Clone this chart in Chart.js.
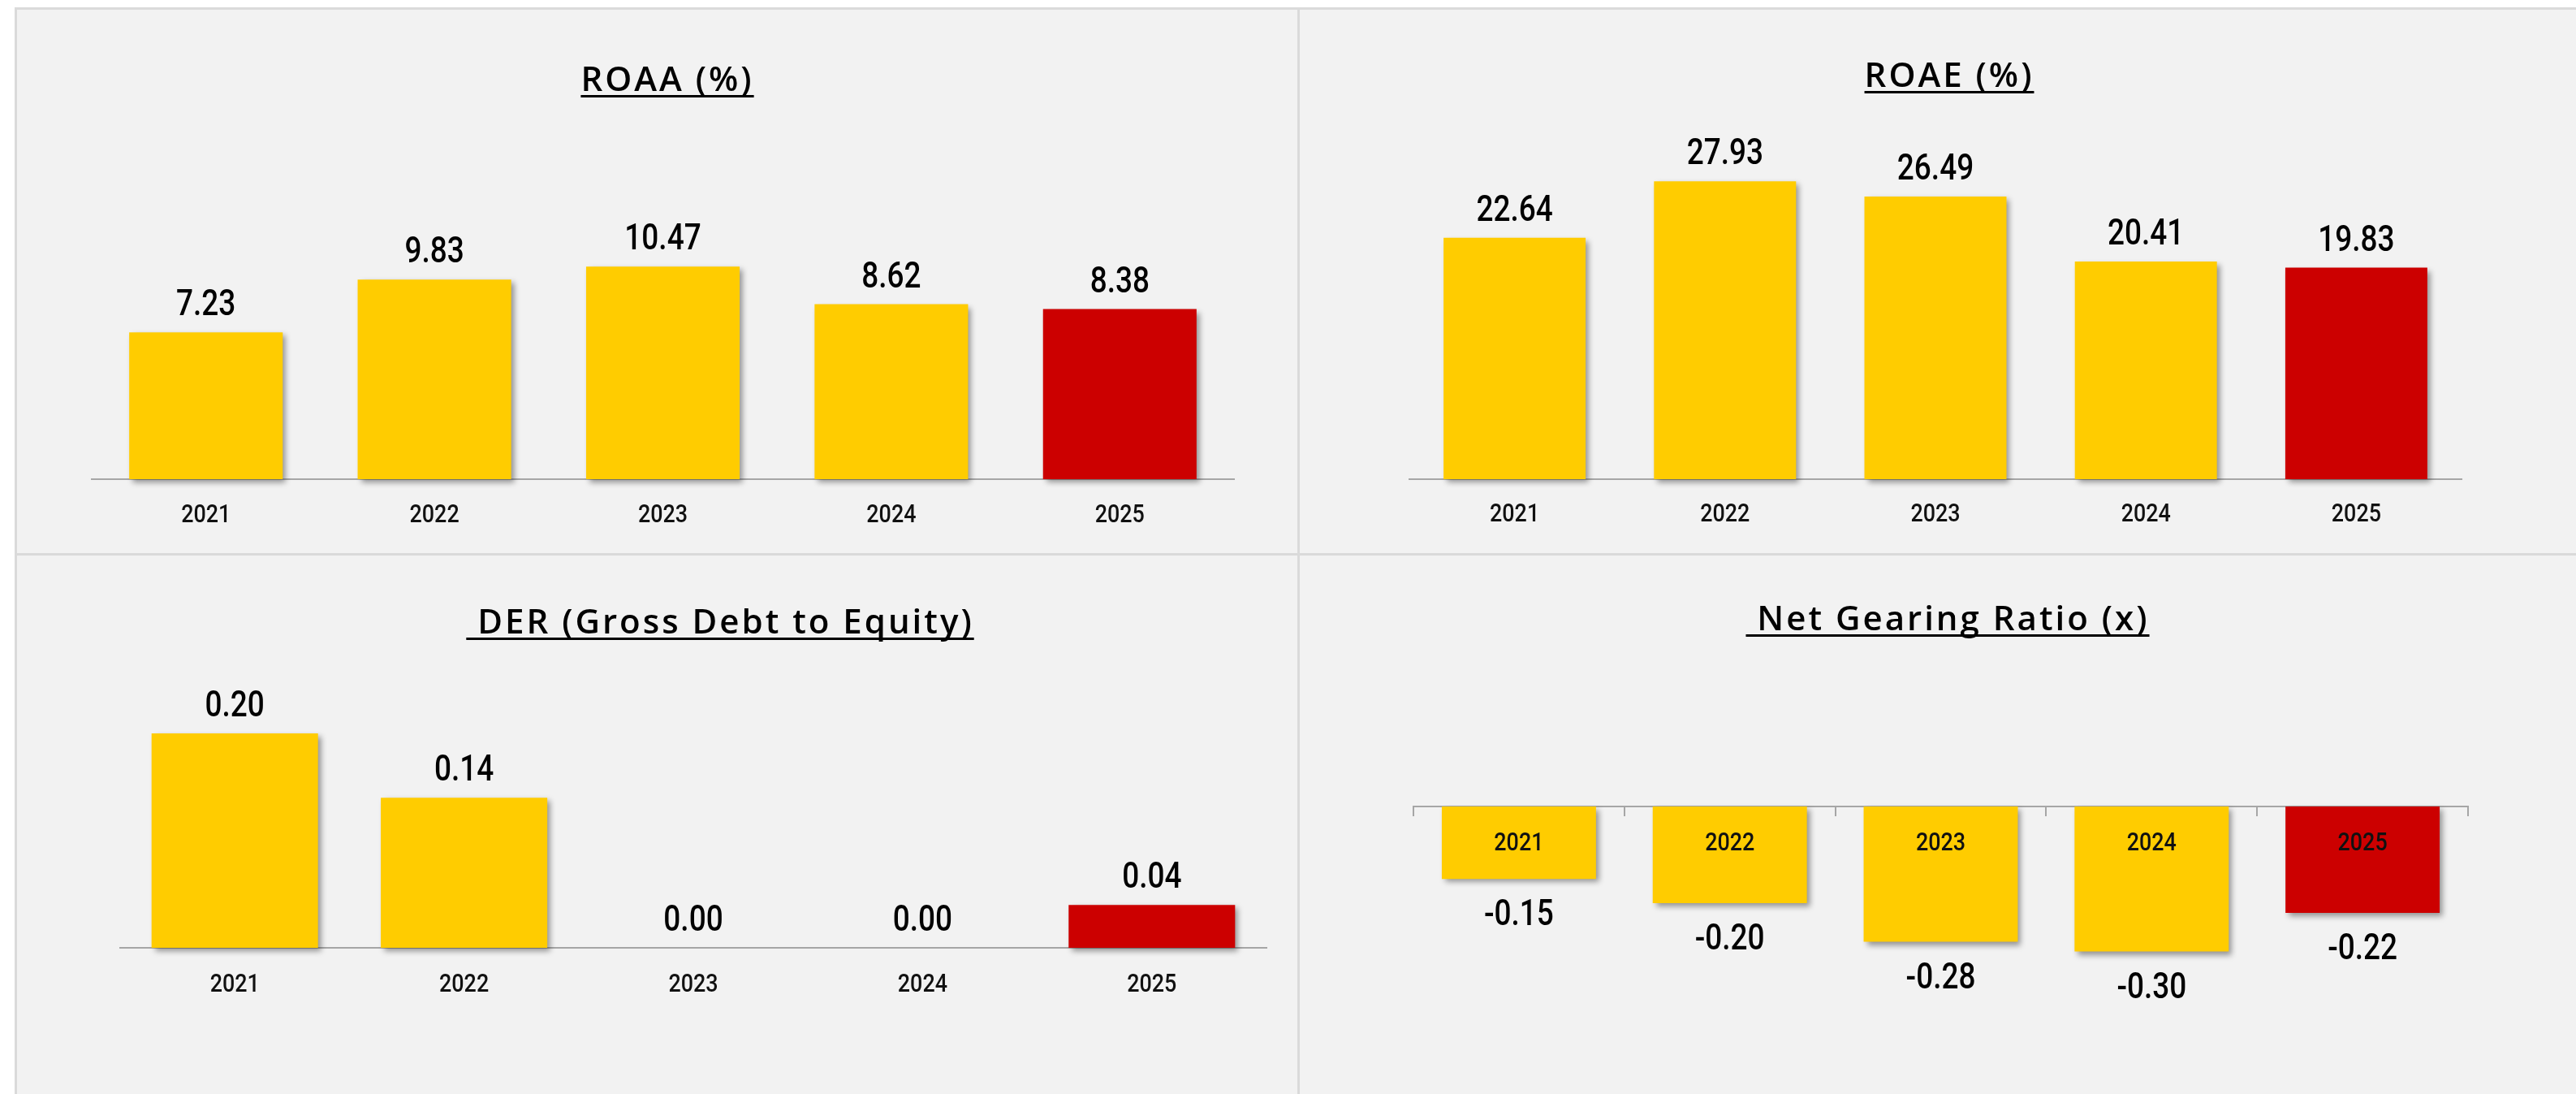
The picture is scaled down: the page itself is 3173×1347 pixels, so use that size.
<!DOCTYPE html>
<html>
<head>
<meta charset="utf-8">
<script src="https://cdn.jsdelivr.net/npm/chart.js@4.4.1/dist/chart.umd.min.js"></script>
<style>
  html, body { margin:0; padding:0; background:#ffffff; width:3173px; height:1347px; overflow:hidden; }
  #frame { position:absolute; left:18px; top:9px; width:3155px; height:1338px; background:#f2f2f2;
           border-left:3px solid #dadada; border-top:3px solid #dadada; box-sizing:border-box; }
  .vdiv { position:absolute; left:1598px; top:9px; width:3px; height:1338px; background:#dadada; }
  .hdiv { position:absolute; left:18px; top:681px; width:3155px; height:3px; background:#dadada; }
  canvas { position:absolute; }
</style>
</head>
<body>
<div id="frame"></div>
<div class="vdiv"></div>
<div class="hdiv"></div>
<canvas id="c1" width="1577" height="669" style="left:21px;top:12px"></canvas>
<canvas id="c2" width="1572" height="669" style="left:1601px;top:12px"></canvas>
<canvas id="c3" width="1577" height="663" style="left:21px;top:684px"></canvas>
<canvas id="c4" width="1572" height="663" style="left:1601px;top:684px"></canvas>
<script>
// ---- data ----
const years = ['2021', '2022', '2023', '2024', '2025'];
const roaaValues = [7.23, 9.83, 10.47, 8.62, 8.38];
const roaeValues = [22.64, 27.93, 26.49, 20.41, 19.83];
const derValues = [0.20, 0.14, 0.00, 0.00, 0.04];
const netGearingValues = [-0.15, -0.20, -0.28, -0.30, -0.22];
const chartTitles = ['ROAA (%)', 'ROAE (%)', ' DER (Gross Debt to Equity)', ' Net Gearing Ratio (x)'];
const barColors = ['#FFCC00', '#FFCC00', '#FFCC00', '#FFCC00', '#CC0000'];

const LABEL_FONT = 'Roboto, "Noto Sans", sans-serif';
const TITLE_FONT = '"Open Sans", "Lato", sans-serif';
const SQUEEZE = 0.84;   // condensed look for labels

function drawCondensed(ctx, text, x, y) {
  ctx.save();
  ctx.translate(x, y);
  ctx.scale(SQUEEZE, 1);
  ctx.fillText(text, 0, 0);
  ctx.restore();
}

const shadowPlugin = {
  id: 'barShadow',
  beforeDatasetsDraw(chart) {
    const ctx = chart.ctx;
    ctx.save();
    ctx.shadowColor = 'rgba(0,0,0,0.40)';
    ctx.shadowBlur = 7;
    ctx.shadowOffsetX = 4;
    ctx.shadowOffsetY = 4;
  },
  afterDatasetsDraw(chart) { chart.ctx.restore(); }
};

const valueLabelPlugin = {
  id: 'valueLabels',
  afterDraw(chart, args, opts) {
    const ctx = chart.ctx;
    ctx.save();
    ctx.font = '500 44px ' + LABEL_FONT;
    ctx.fillStyle = '#000000';
    ctx.textAlign = 'center';
    ctx.textBaseline = 'middle';
    const meta = chart.getDatasetMeta(0);
    const data = chart.data.datasets[0].data;
    meta.data.forEach((bar, i) => {
      const v = data[i];
      const y = v >= 0 ? bar.y - opts.gapAbove : bar.y + opts.gapBelow;
      drawCondensed(ctx, v.toFixed(2), bar.x, y);
    });
    ctx.restore();
  }
};

const categoryLabelPlugin = {
  id: 'categoryLabels',
  afterDraw(chart, args, opts) {
    const ctx = chart.ctx;
    const xs = chart.scales.x, ys = chart.scales.y;
    const base = ys.getPixelForValue(0);
    ctx.save();
    ctx.font = '500 32px ' + LABEL_FONT;
    ctx.fillStyle = '#111111';
    ctx.textAlign = 'center';
    ctx.textBaseline = 'middle';
    xs.ticks.forEach((t, i) => {
      drawCondensed(ctx, xs.getLabelForValue(t.value), xs.getPixelForTick(i), base + opts.offset);
    });
    ctx.restore();
  }
};

const titlePlugin = {
  id: 'underlinedTitle',
  afterDraw(chart, args, opts) {
    const ctx = chart.ctx;
    ctx.save();
    ctx.font = '600 42px ' + TITLE_FONT;
    if ('letterSpacing' in ctx) ctx.letterSpacing = opts.letterSpacing + 'px';
    ctx.fillStyle = '#000000';
    ctx.textAlign = 'center';
    ctx.textBaseline = 'alphabetic';
    ctx.fillText(opts.text, opts.x, opts.y);
    const w = ctx.measureText(opts.text).width;
    ctx.fillRect(opts.x - w / 2, opts.y + 5, w, 3);
    ctx.restore();
  }
};

function makeChart(id, values, title, c) {
  const xScale = {
    position: c.axisAtZero ? { y: 0 } : 'bottom',
    grid: c.axisAtZero
      ? { display: true, drawOnChartArea: false, drawTicks: true, tickLength: 11, color: '#a6a6a6', lineWidth: 2, offset: true }
      : { display: false },
    border: { display: true, color: '#a6a6a6', width: 2 },
    ticks: { display: false, autoSkip: false }
  };
  if (!c.axisAtZero) xScale.afterFit = s => { s.height = c.axisH; };

  return new Chart(document.getElementById(id), {
    type: 'bar',
    data: {
      labels: years,
      datasets: [{
        data: values,
        backgroundColor: barColors,
        borderWidth: 0,
        categoryPercentage: 1,
        barPercentage: c.barPct,
        clip: false
      }]
    },
    options: {
      responsive: false,
      animation: false,
      events: [],
      layout: { padding: c.pad },
      plugins: {
        legend: { display: false },
        tooltip: { enabled: false },
        title: { display: false },
        valueLabels: { gapAbove: 32, gapBelow: 46 },
        categoryLabels: { offset: c.labelOffset },
        underlinedTitle: { text: title, x: c.titleX, y: c.titleY, letterSpacing: 3 }
      },
      scales: {
        x: xScale,
        y: { display: false, min: c.yMin, max: c.yMax }
      }
    },
    plugins: [shadowPlugin, valueLabelPlugin, categoryLabelPlugin, titlePlugin]
  });
}

makeChart('c1', roaaValues, chartTitles[0], {
  yMin: 0, yMax: 14, barPct: 0.672,
  pad: { left: 92, right: 78, top: 228, bottom: 0 }, axisH: 91, labelOffset: 45,
  titleX: 801, titleY: 100
});
makeChart('c2', roaeValues, chartTitles[1], {
  yMin: 0, yMax: 30, barPct: 0.675,
  pad: { left: 135, right: 141, top: 184, bottom: 0 }, axisH: 91, labelOffset: 44,
  titleX: 800, titleY: 95
});
makeChart('c3', derValues, chartTitles[2], {
  yMin: 0, yMax: 0.25, barPct: 0.726,
  pad: { left: 127, right: 38, top: 153, bottom: 89 }, axisH: 91, labelOffset: 46,
  titleX: 866, titleY: 96
});
makeChart('c4', netGearingValues, chartTitles[3], {
  yMin: -0.4, yMax: 0, barPct: 0.731, axisAtZero: true,
  pad: { left: 140, right: 133, top: 309, bottom: 116 }, labelOffset: 46,
  titleX: 798, titleY: 92
});
</script>
</body>
</html>
